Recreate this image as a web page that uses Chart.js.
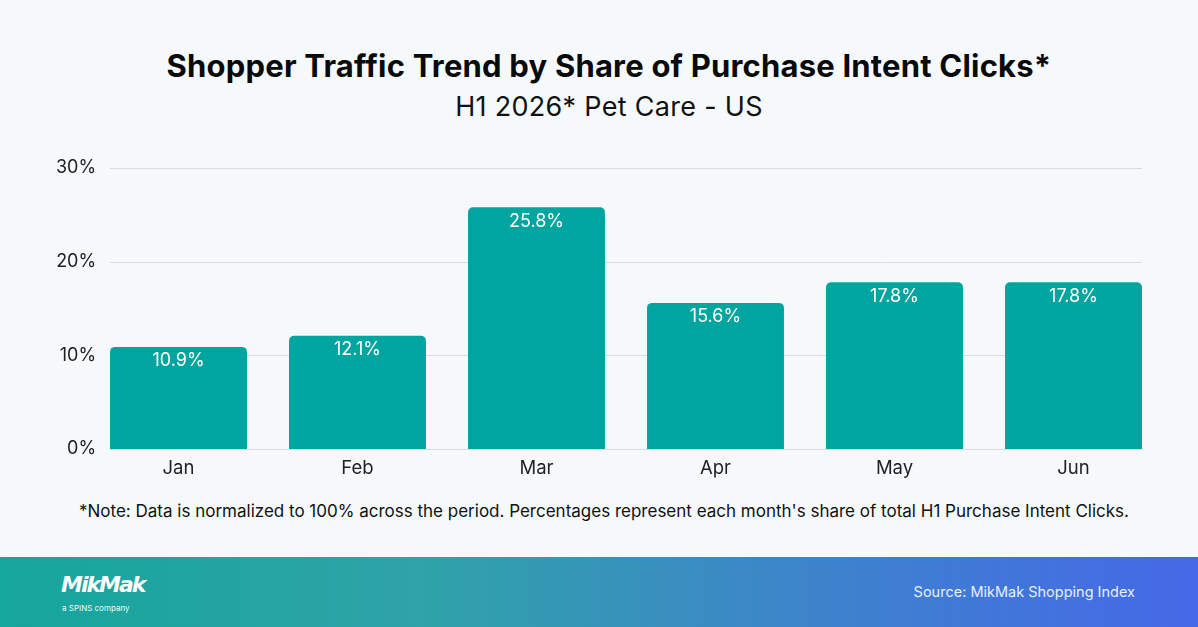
<!DOCTYPE html>
<html>
<head>
<meta charset="utf-8">
<script src="https://cdn.jsdelivr.net/npm/chart.js@4.4.1/dist/chart.umd.min.js"></script>
<style>
  html, body { margin: 0; padding: 0; }
  body {
    width: 1198px; height: 627px; overflow: hidden; position: relative;
    background: #f5f9fc; font-family: Inter, "Noto Sans", sans-serif;
  }
  .title {
    position: absolute; top: 47px; left: 10px; width: 1198px; text-align: center;
    font-size: 31px; font-weight: 700; color: #0a0a0a; letter-spacing: 0.2px;
  }
  .subtitle {
    position: absolute; top: 90px; left: 10px; width: 1198px; text-align: center;
    font-size: 27px; font-weight: 400; color: #111; letter-spacing: 0.3px;
  }
  .chart-box { position: absolute; left: 0; top: 150px; width: 1198px; height: 330px; }
  .note {
    position: absolute; top: 501px; left: 5px; width: 1198px; text-align: center;
    font-size: 17px; color: #111; letter-spacing: 0px;
  }
  .footer {
    position: absolute; left: 0; top: 557px; width: 1198px; height: 70px;
    background: linear-gradient(90deg, #15a69c 0%, #2fa3a8 35%, #3d86c9 65%, #4568e8 100%);
  }
  .logo {
    position: absolute; left: 61px; top: 15px; color: #fff;
    font-size: 22px; font-weight: 700; font-style: italic; letter-spacing: -2px;
    font-family: "DejaVu Sans", sans-serif;
  }
  .logo-sub {
    position: absolute; left: 62px; top: 46px; color: #e8fbf8; font-size: 8px;
  }
  .source {
    position: absolute; right: 63px; top: 26px; color: #e6f0ff; font-size: 14.5px;
  }
</style>
</head>
<body>
<div class="title">Shopper Traffic Trend by Share of Purchase Intent Clicks*</div>
<div class="subtitle">H1 2026* Pet Care - US</div>
<div class="chart-box"><canvas id="trafficChart"></canvas></div>
<div class="note">*Note: Data is normalized to 100% across the period. Percentages represent each month's share of total H1 Purchase Intent Clicks.</div>
<div class="footer">
  <div class="logo">MikMak</div>
  <div class="logo-sub">a SPINS company</div>
  <div class="source">Source: MikMak Shopping Index</div>
</div>
<script>
const months = ['Jan', 'Feb', 'Mar', 'Apr', 'May', 'Jun'];
const shareValues = [10.9, 12.1, 25.8, 15.6, 17.8, 17.8];
const yTicks = [0, 10, 20, 30];

// horizontal grid lines that run from the first bar's left edge to the last bar's right edge
const gridLines = {
  id: 'gridLines',
  beforeDatasetsDraw(chart) {
    const ctx = chart.ctx;
    const meta = chart.getDatasetMeta(0);
    const first = meta.data[0], last = meta.data[meta.data.length - 1];
    const x0 = first.x - first.width / 2, x1 = last.x + last.width / 2;
    const y = chart.scales.y;
    ctx.save();
    ctx.strokeStyle = '#d8dcdf';
    ctx.lineWidth = 1;
    yTicks.forEach(function(v) {
      const py = Math.round(y.getPixelForValue(v)) + 0.5;
      ctx.beginPath();
      ctx.moveTo(x0, py);
      ctx.lineTo(x1, py);
      ctx.stroke();
    });
    ctx.restore();
  }
};

// labels drawn inside the top of each bar
const barLabels = {
  id: 'barLabels',
  afterDatasetsDraw(chart) {
    const ctx = chart.ctx;
    const meta = chart.getDatasetMeta(0);
    ctx.save();
    ctx.fillStyle = '#ffffff';
    ctx.font = '18px Inter, sans-serif';
    ctx.textAlign = 'center';
    ctx.textBaseline = 'middle';
    meta.data.forEach(function(bar, i) {
      ctx.fillText(shareValues[i].toFixed(1) + '%', bar.x, bar.y + 14);
    });
    ctx.restore();
  }
};

const ctx = document.getElementById('trafficChart').getContext('2d');
new Chart(ctx, {
  type: 'bar',
  data: {
    labels: months,
    datasets: [{
      data: shareValues,
      backgroundColor: '#00a59f',
      borderRadius: { topLeft: 5, topRight: 5 },
      borderSkipped: 'bottom',
      barPercentage: 0.765,
      categoryPercentage: 1
    }]
  },
  options: {
    responsive: true,
    maintainAspectRatio: false,
    animation: false,
    layout: { padding: { top: 18, right: 35, bottom: 0, left: 0 } },
    plugins: { legend: { display: false }, tooltip: { enabled: false } },
    scales: {
      x: {
        grid: { display: false },
        border: { display: false },
        ticks: { color: '#222', font: { size: 18.5, family: 'Inter' }, padding: 0 },
        afterFit(scale) { scale.height = 31; }
      },
      y: {
        min: 0, max: 30,
        afterBuildTicks(scale) { scale.ticks = yTicks.map(v => ({ value: v })); },
        grid: { display: false },
        border: { display: false },
        ticks: {
          color: '#222', font: { size: 18, family: 'Inter' },
          mirror: true, crossAlign: 'far', padding: -33,
          callback: v => v + '%'
        },
        afterFit(scale) { scale.width = 89; }
      }
    }
  },
  plugins: [gridLines, barLabels]
});
</script>
</body>
</html>
